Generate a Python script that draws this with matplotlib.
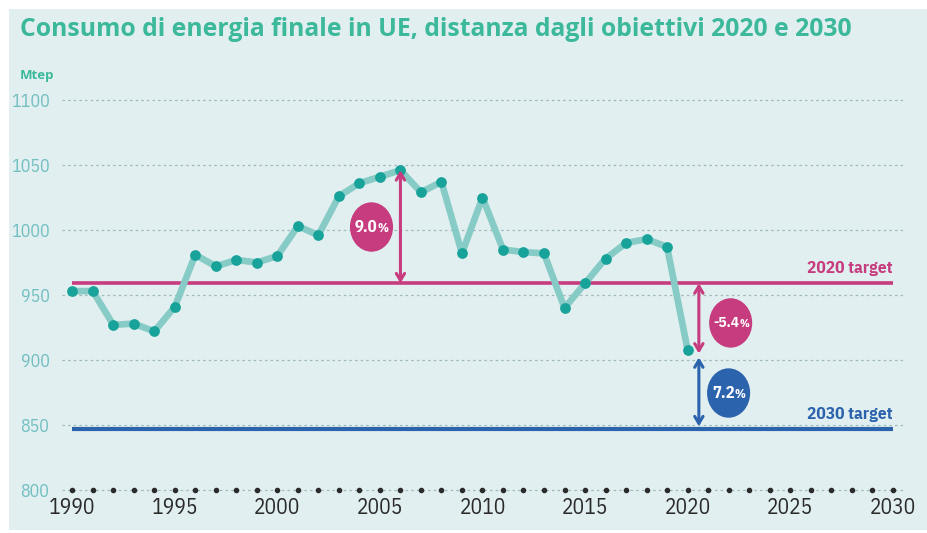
import matplotlib
matplotlib.use("Agg")
import matplotlib.pyplot as plt
from matplotlib.patches import Ellipse, Rectangle
from matplotlib import font_manager

years = list(range(1990, 2021))
consumo = [953, 953, 927, 928, 922, 941, 981, 972, 977, 975, 980, 1003, 996,
           1026, 1036, 1041, 1046, 1029, 1037, 982, 1025, 985, 983, 982, 940,
           959, 978, 990, 993, 987, 908]
target_2020 = 959
target_2030 = 847
yticks = [800, 850, 900, 950, 1000, 1050, 1100]
xticks = [1990, 1995, 2000, 2005, 2010, 2015, 2020, 2025, 2030]
labels_pct = ["9.0", "-5.4", "7.2"]

avail = {f.name for f in font_manager.fontManager.ttflist}
narrow = "IBM Plex Sans Condensed" if "IBM Plex Sans Condensed" in avail else "DejaVu Sans"

BG = "#e2eff0"
PINK = "#c63c7f"
BLUE = "#2c63ad"
TEAL_L = "#86cbc6"
TEAL_D = "#17a29a"
GREEN = "#3cb89a"

fig = plt.figure(figsize=(9.28, 5.33), dpi=100)
bg = Rectangle((9/928, 3/533), 1 - 9/928, 1 - 12/533,
               transform=fig.transFigure, facecolor=BG, edgecolor="none", zorder=-10)
fig.add_artist(bg)
ax = fig.add_axes([62/928, 1 - 490/533, (905 - 62)/928, 390/533])
ax.set_zorder(1)
ax.set_facecolor("none")
ax.set_xlim(1989.5, 2030.6)
ax.set_ylim(800, 1100)
for s in ax.spines.values():
    s.set_visible(False)

for yv in yticks:
    ax.axhline(yv, color="#9fb8b8", lw=0.9, ls=(0, (2, 2.5)), zorder=1, clip_on=False)

# x axis dots
ax.scatter(list(range(1990, 2031)), [800] * 41, s=9, color="#2b2b2b", zorder=3, clip_on=False)

ax.set_yticks(yticks)
ax.set_yticklabels([str(v) for v in yticks], fontsize=13, color="#72bfc2", family=narrow)
ax.set_xticks(xticks)
ax.set_xticklabels([str(v) for v in xticks], fontsize=15.5, color="#2a2a2a", family=narrow)
ax.tick_params(length=0)
ax.tick_params(axis="y", pad=9)
ax.tick_params(axis="x", pad=5)

# targets
ax.plot([1990, 2030], [target_2020, target_2020], color=PINK, lw=2.6, zorder=2, solid_capstyle="butt")
ax.plot([1990, 2030], [target_2030, target_2030], color=BLUE, lw=3, zorder=2, solid_capstyle="butt")
ax.text(2030, 970.5, "2020 target", ha="right", va="center", fontsize=12.5,
        color=PINK, fontweight="bold", family=narrow)
ax.text(2030, 858, "2030 target", ha="right", va="center", fontsize=12.5,
        color=BLUE, fontweight="bold", family=narrow)

# series
ax.plot(years, consumo, color=TEAL_L, lw=4.8, zorder=4, solid_joinstyle="round")
ax.scatter(years, consumo, s=45, color=TEAL_D, zorder=5, clip_on=False)

# arrows
arrow_kw = dict(arrowstyle="<->,head_length=0.5,head_width=0.3", lw=2.2, shrinkA=0, shrinkB=0)
ax.annotate("", xy=(2006, 1046), xytext=(2006, target_2020),
            arrowprops=dict(color=PINK, **arrow_kw), zorder=6)
ax.annotate("", xy=(2020.55, 905), xytext=(2020.55, target_2020),
            arrowprops=dict(color=PINK, **arrow_kw), zorder=6)
ax.annotate("", xy=(2020.55, 902), xytext=(2020.55, 849),
            arrowprops=dict(color=BLUE, **arrow_kw), zorder=6)

# bubbles
bubbles = [(2004.59, 1002.3, PINK, labels_pct[0], 12, 0.3),
           (2022.1, 928.5, PINK, labels_pct[1], 11, 0.42),
           (2022.0, 874.6, BLUE, labels_pct[2], 12, 0.3)]
for bx, by, col, lab, fs, off in bubbles:
    ax.add_patch(Ellipse((bx, by), 2.1, 38, facecolor=col, edgecolor="none", zorder=7))
    ax.text(bx + off, by, lab, ha="right", va="center", color="white",
            fontsize=fs, fontweight="bold", family=narrow, zorder=8)
    ax.text(bx + off, by - 0.8, "%", ha="left", va="center", color="white",
            fontsize=fs - 3, fontweight="bold", family=narrow, zorder=8)

fig.text(20/928, 1 - 29/533, "Consumo di energia finale in UE, distanza dagli obiettivi 2020 e 2030",
         fontsize=17.8, fontweight="bold", color=GREEN, family="Open Sans", ha="left", va="center")
fig.text(20/928, 1 - 75/533, "Mtep", fontsize=9.5, fontweight="bold", color=GREEN,
         family="Open Sans", ha="left", va="center")

fig.savefig("out.png", dpi=100)
